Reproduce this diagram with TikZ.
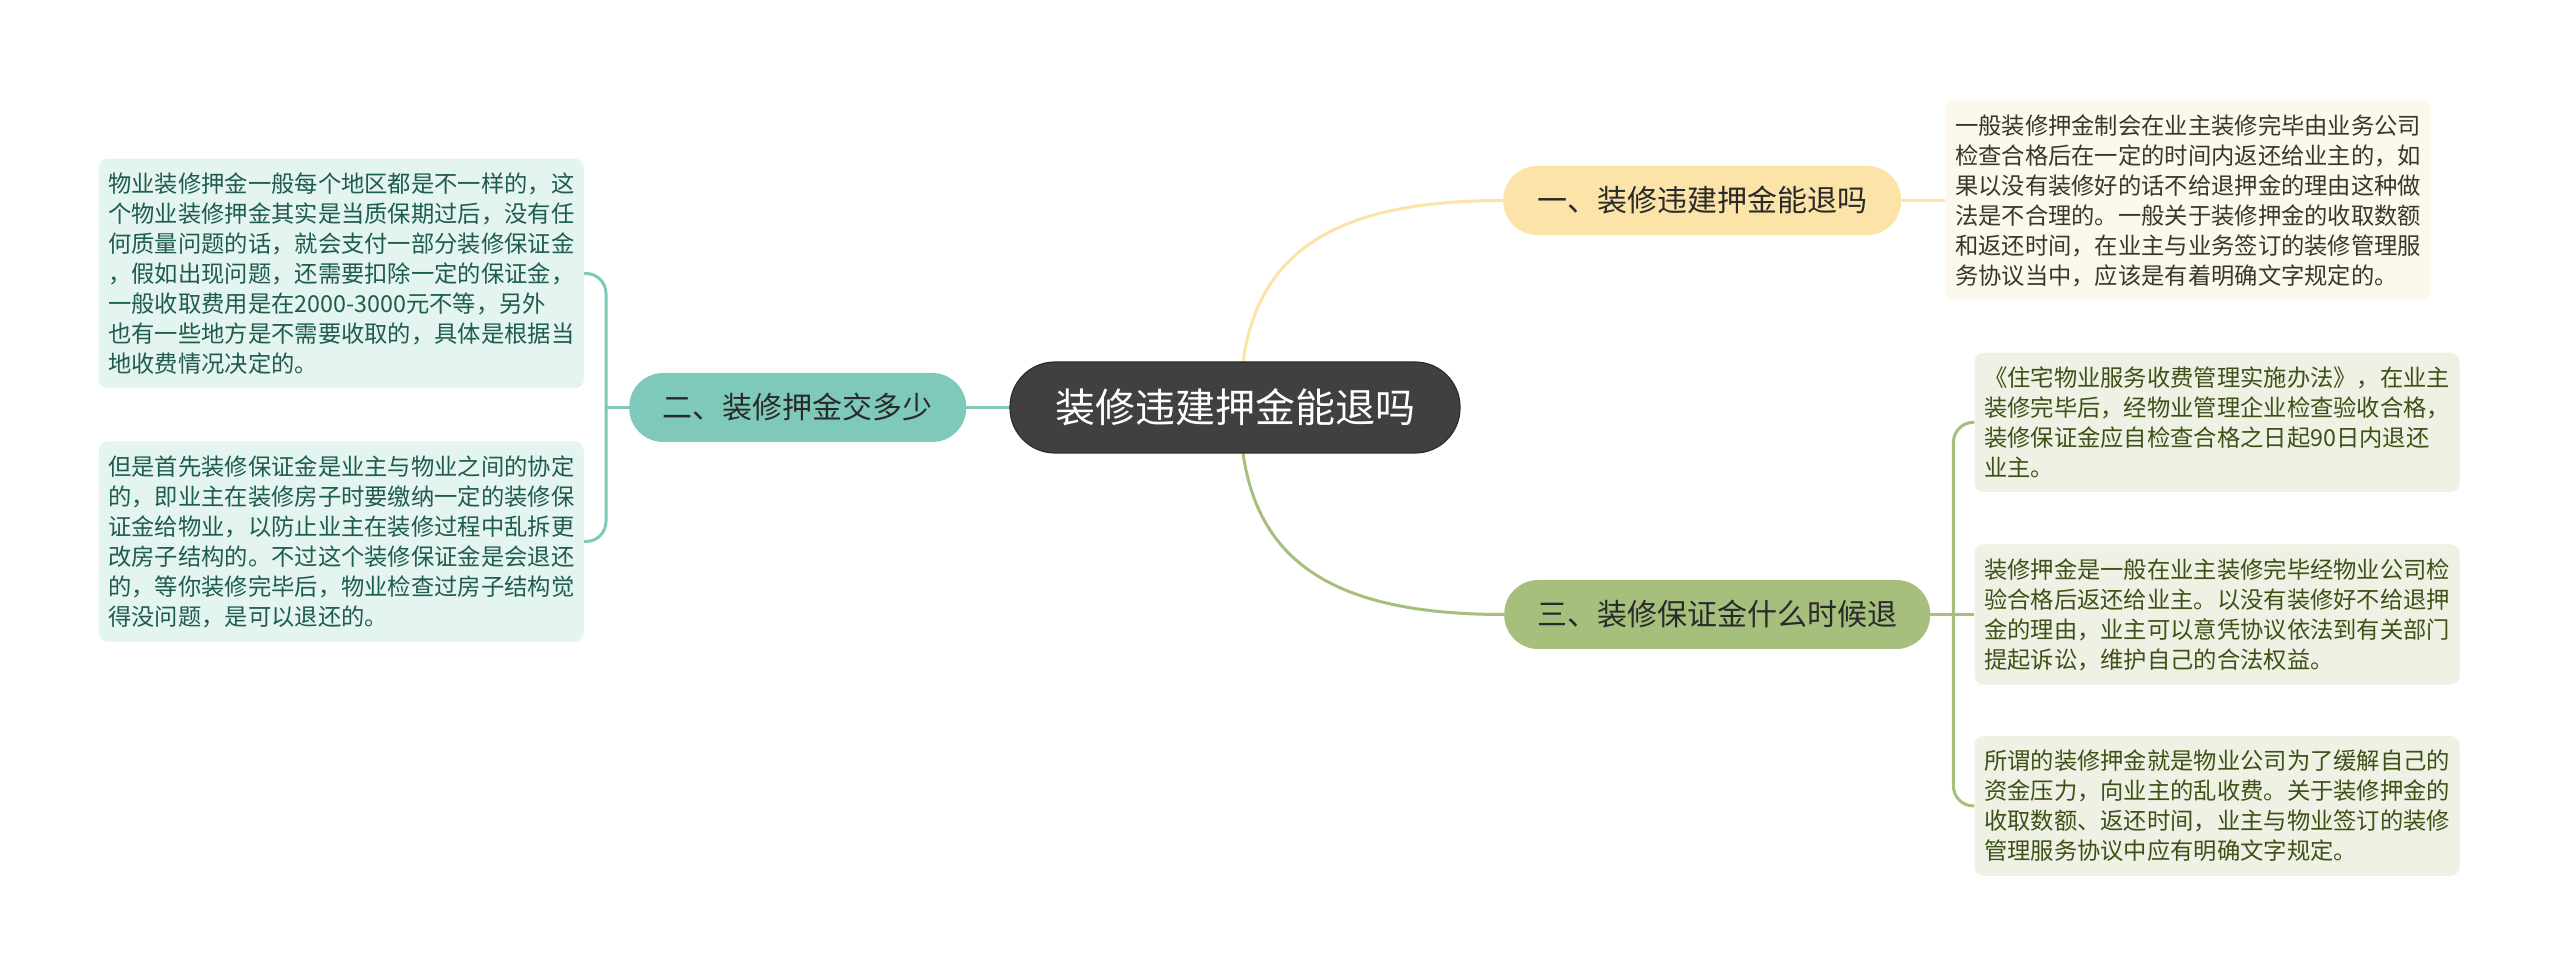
\documentclass[tikz,border=0pt]{standalone}
\usepackage{fontspec}
\setmainfont{Noto Sans CJK SC}
\usetikzlibrary{positioning,backgrounds}
\definecolor{hubfill}{HTML}{404040}
\definecolor{hubedge}{HTML}{2E2E2E}
\definecolor{topicink}{HTML}{2A2A2A}
\definecolor{sandfill}{HTML}{FCE3A8}
\definecolor{sandbg}{HTML}{FDF8EC}
\definecolor{sandink}{HTML}{3A3628}
\definecolor{tealfill}{HTML}{7FC9BA}
\definecolor{tealbg}{HTML}{E4F4F0}
\definecolor{tealink}{HTML}{1E5C4C}
\definecolor{olivefill}{HTML}{A6BF7D}
\definecolor{olivebg}{HTML}{EEF1E4}
\definecolor{oliveink}{HTML}{3D5117}
\tikzset{
  hub/.style={fill=hubfill,draw=hubedge,line width=1.2pt,text=white,rounded corners=45pt,
              minimum width=450pt,minimum height=91pt,font=\fontsize{40}{48}\selectfont},
  topic/.style={fill=#1,rounded corners=34pt,minimum height=69pt,inner xsep=0pt,
                text=topicink,font=\fontsize{30}{36}\selectfont},
  leaf/.style={fill=#1,rounded corners=9pt,align=left,text width=466pt,inner xsep=9.5pt,
               inner ysep=14pt,font=\fontsize{23.3}{30}\selectfont},
  link/.style={draw=#1,line width=3pt},
}

\begin{document}
\begin{tikzpicture}[x=1pt,y=1pt]
  \begin{scope}[on background layer]
    \fill[white] (0,0) rectangle (2560,977);
  \end{scope}
  \useasboundingbox (0,0) rectangle (2560,977);
  % centre and topics
  \node[hub] (hub) at (1235,569.5) {装修违建押金能退吗};
  \node[topic=sandfill, minimum width=398pt, anchor=west] (t1) at (1503,776.5) {一、装修违建押金能退吗};
  \node[topic=tealfill, minimum width=337pt, left=43pt of hub] (t2) {二、装修押金交多少};
  \node[topic=olivefill, minimum width=426pt, anchor=west] (t3) at (1504,362.5) {三、装修保证金什么时候退};
  % leaves
  \node[leaf=sandbg, text=sandink, right=44pt of t1] (t1a) {一般装修押金制会在业主装修完毕由业务公司\\
     检查合格后在一定的时间内返还给业主的，如\\
     果以没有装修好的话不给退押金的理由这种做\\
     法是不合理的。一般关于装修押金的收取数额\\
     和返还时间，在业主与业务签订的装修管理服\\
     务协议当中，应该是有着明确文字规定的。};
  \node[leaf=tealbg, text=tealink, anchor=east] (t2a) at ([xshift=-45pt,yshift=134pt]t2.west) {物业装修押金一般每个地区都是不一样的，这\\
     个物业装修押金其实是当质保期过后，没有任\\
     何质量问题的话，就会支付一部分装修保证金\\
     ，假如出现问题，还需要扣除一定的保证金，\\
     一般收取费用是在2000-3000元不等，另外\\
     也有一些地方是不需要收取的，具体是根据当\\
     地收费情况决定的。};
  \node[leaf=tealbg, text=tealink, anchor=east] (t2b) at ([xshift=-45pt,yshift=-134pt]t2.west) {但是首先装修保证金是业主与物业之间的协定\\
     的，即业主在装修房子时要缴纳一定的装修保\\
     证金给物业，以防止业主在装修过程中乱拆更\\
     改房子结构的。不过这个装修保证金是会退还\\
     的，等你装修完毕后，物业检查过房子结构觉\\
     得没问题，是可以退还的。};
  \node[leaf=olivebg, text=oliveink, right=44pt of t3] (t3b) {装修押金是一般在业主装修完毕经物业公司检\\
     验合格后返还给业主。以没有装修好不给退押\\
     金的理由，业主可以意凭协议依法到有关部门\\
     提起诉讼，维护自己的合法权益。};
  \node[leaf=olivebg, text=oliveink, above=52pt of t3b] (t3a) {《住宅物业服务收费管理实施办法》，在业主\\
     装修完毕后，经物业管理企业检查验收合格，\\
     装修保证金应自检查合格之日起90日内退还\\
     业主。};
  \node[leaf=olivebg, text=oliveink, below=51pt of t3b] (t3c) {所谓的装修押金就是物业公司为了缓解自己的\\
     资金压力，向业主的乱收费。关于装修押金的\\
     收取数额、返还时间，业主与物业签订的装修\\
     管理服务协议中应有明确文字规定。};
  % links
  \begin{scope}[on background layer]
    \draw[link=sandfill] ([xshift=5pt]hub.center) .. controls +(0,147) and +(-183,0) .. (t1.west);
    \draw[link=olivefill] ([xshift=5pt]hub.center) .. controls +(0,-147) and +(-183,0) .. (t3.west);
    \draw[link=tealfill] (hub.center) -- (t2.center);
    \draw[link=sandfill] (t1.center) -- (t1a.west);
    \coordinate (t2fork) at ([xshift=-23pt]t2.west);
    \draw[link=tealfill] (t2.center) -- (t2fork);
    \draw[link=tealfill, rounded corners=20pt] (t2a.east) -| (t2fork) |- (t2b.east);
    \coordinate (t3fork) at ([xshift=23pt]t3.east);
    \draw[link=olivefill] (t3.center) -- (t3b.west);
    \draw[link=olivefill, rounded corners=20pt] (t3a.west) -| (t3fork) |- (t3c.west);
  \end{scope}
\end{tikzpicture}
\end{document}
